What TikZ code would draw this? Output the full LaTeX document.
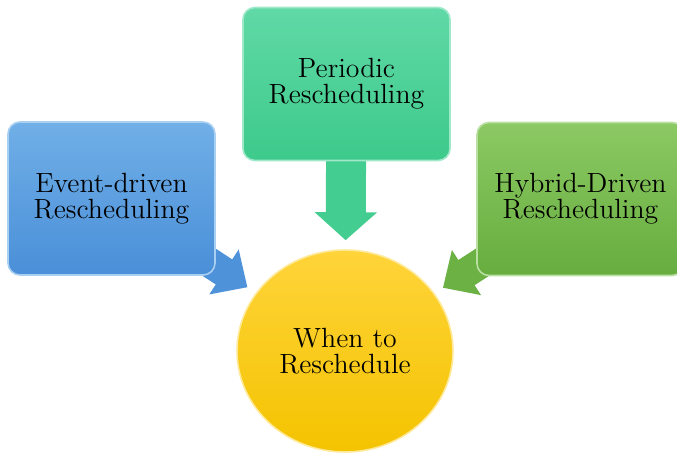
\documentclass[tikz,border=0pt]{standalone}
\usepackage{tikz}
\usetikzlibrary{arrows.meta}
\usetikzlibrary{positioning,shapes.geometric,backgrounds}
\definecolor{evtop}{HTML}{70AFE7}
\definecolor{evbot}{HTML}{4A8FD8}
\definecolor{pertop}{HTML}{60D9A6}
\definecolor{perbot}{HTML}{3DCA8B}
\definecolor{hybtop}{HTML}{8CC964}
\definecolor{hybbot}{HTML}{66AD3E}
\definecolor{whentop}{HTML}{FFD43A}
\definecolor{whenbot}{HTML}{F4C300}
\colorlet{evarr}{evbot!90!evtop}
\colorlet{perarr}{perbot!80!pertop}
\colorlet{hybarr}{hybbot!85!hybtop}

\begin{document}
\begin{tikzpicture}[
x=0.5pt, y=-0.5pt,
MyText/.style={align=center, text=black, font=\fontsize{13.9}{13}\selectfont},
MyBox/.style={MyText, rectangle, rounded corners=6pt, minimum width=103.5pt, minimum height=76.5pt, line width=0.8pt},
MyCircle/.style={MyText, ellipse, minimum width=108pt, minimum height=101pt, line width=0.8pt},
SideArrow/.style={-{Triangle[length=14pt, width=26pt]}, line width=15pt, shorten <=-30pt, shorten >=5pt},
DownArrow/.style={-{Triangle[length=14pt, width=30.5pt]}, line width=20pt, shorten <=-10pt, shorten >=4.5pt}
]
\clip (0,0) rectangle (677,454);

% the three ways and the question they lead to
\node[MyBox, top color=evtop, bottom color=evbot, draw=evtop!60!white] (ev) at (111.5,198.5) {Event-driven\\Rescheduling};
\node[MyBox, top color=pertop, bottom color=perbot, draw=pertop!60!white] (per) at (346.5,84) {Periodic\\Rescheduling};
\node[MyBox, top color=hybtop, bottom color=hybbot, draw=hybtop!60!white] (hyb) at (580.5,199) {Hybrid-Driven\\Rescheduling};
\node[MyCircle, top color=whentop, bottom color=whenbot, draw=whentop!50!white] (when) at (345,351) {When to\\Reschedule};

% block arrows, kept behind the boxes
\begin{pgfonlayer}{background}
\draw[SideArrow, evarr] (ev) -- (when);
\draw[DownArrow, perarr] (per) -- (when);
\draw[SideArrow, hybarr] (hyb) -- (when);
\end{pgfonlayer}

\end{tikzpicture}
\end{document}
